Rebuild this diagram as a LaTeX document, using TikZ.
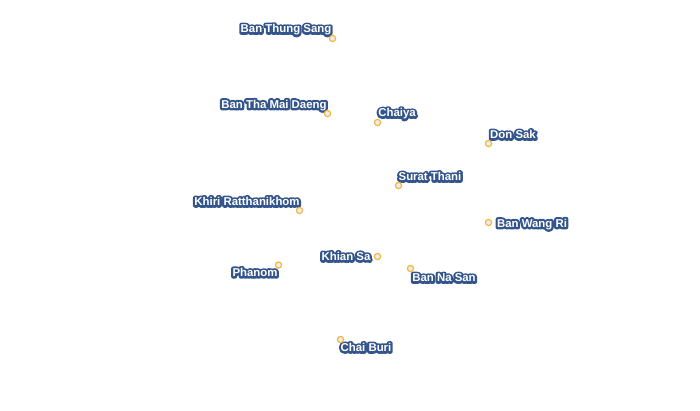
\documentclass[tikz,border=0pt]{standalone}
\usepackage{fontspec}
\setmainfont{Liberation Sans}
\definecolor{markfill}{HTML}{EEEEEE}
\definecolor{markline}{HTML}{F4B63A}
\newcommand{\halotext}[1]{\leavevmode\rlap{\special{pdf:code 1 Tr 4.4 w 1 J 1 j 0.204 0.333 0.545 RG}#1\special{pdf:code 0 Tr 0 w}}\textcolor{white}{#1}}
\tikzset{
  place/.style={circle,draw=markline,fill=markfill,line width=1.2pt,inner sep=0pt,minimum size=6.2pt},
  placelabel/.style={inner sep=0pt,font=\bfseries\fontsize{11.4}{14}\selectfont}
}
\newcommand{\placeat}[6]{%
  \node[placelabel] (#1-label) at (#4,#5) {\halotext{#6}};
  \node[place] (#1) at (#2,#3) {};
}
\begin{document}
\begin{tikzpicture}[x=1pt,y=-1pt]
\useasboundingbox (0,0) rectangle (700,410);
\placeat{a}{332.5}{38.5}{286}{29.8}{Ban Thung Sang}
\placeat{b}{327.5}{113.5}{274}{105.3}{Ban Tha Mai Daeng}
\placeat{c}{377.5}{122.5}{397}{113.8}{Chaiya}
\placeat{d}{488.5}{143.5}{513}{134.6}{Don Sak}
\placeat{e}{398.5}{185.5}{430}{176.6}{Surat Thani}
\placeat{f}{299.5}{210.5}{247}{201.5}{Khiri Ratthanikhom}
\placeat{g}{488.5}{222.5}{532}{224.3}{Ban Wang Ri}
\placeat{h}{377.5}{256.5}{346}{256.5}{Khian Sa}
\placeat{i}{278.5}{265}{255}{272.4}{Phanom}
\placeat{j}{410.5}{268.5}{444}{277.8}{Ban Na San}
\placeat{k}{340.5}{339.5}{366}{347.5}{Chai Buri}
\end{tikzpicture}
\end{document}
